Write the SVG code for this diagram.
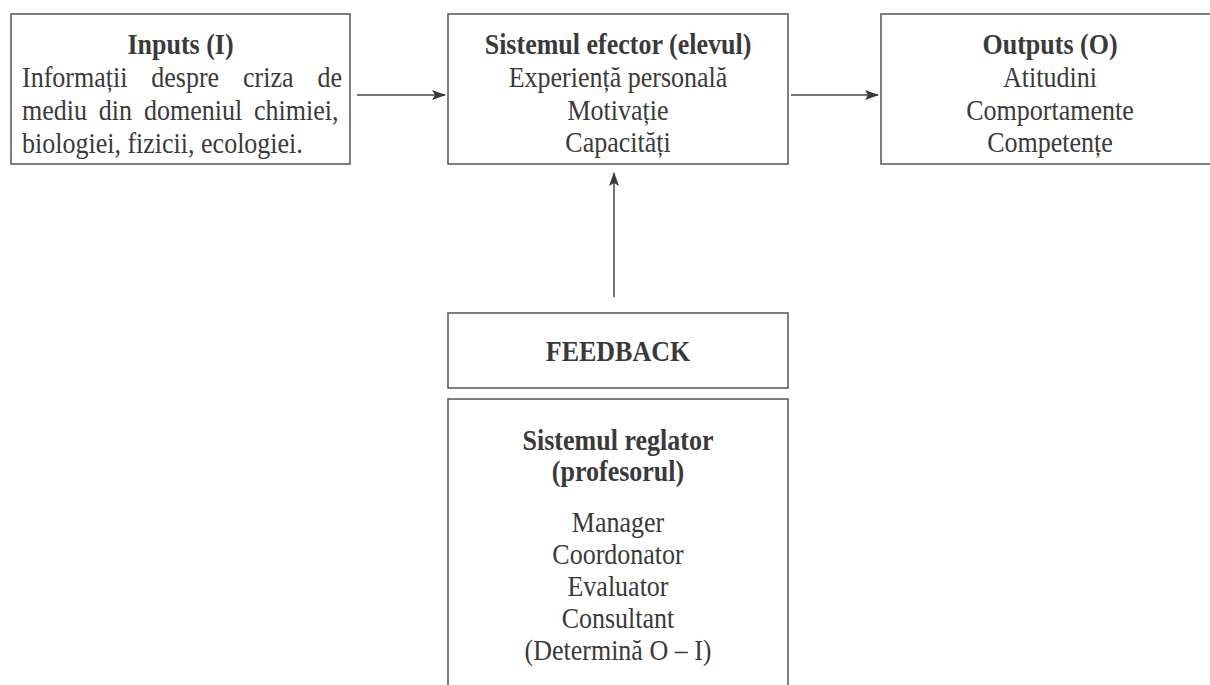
<svg xmlns="http://www.w3.org/2000/svg" width="1210" height="685" viewBox="0 0 1210 685">
<style>
.box{fill:#fff;stroke:#555;stroke-width:1.5}
.t{font-family:"Liberation Serif","Times New Roman",serif;font-size:29px;fill:#3a3a3a;text-anchor:middle}
.b{font-weight:bold}
.l{text-anchor:start}
.con{stroke:#444;stroke-width:1.5;fill:none}
</style>
<defs>
<marker id="ah" viewBox="0 0 14 10" refX="13" refY="5" markerWidth="14" markerHeight="10" markerUnits="userSpaceOnUse" orient="auto">
<path d="M0,0 L14,5 L0,10 L3,5 Z" fill="#3a3a3a"/>
</marker>
</defs>
<rect width="1210" height="685" fill="#fff"/>
<g id="inputs">
<rect class="box" x="11" y="14" width="339" height="150"/>
<text class="t b" transform="translate(180.5,54) scale(0.897,1)">Inputs (I)</text>
<text class="t l" transform="translate(22,87) scale(0.897,1)" word-spacing="19.4">Informații despre criza de</text>
<text class="t l" transform="translate(22,120) scale(0.897,1)" word-spacing="6">mediu din domeniul chimiei,</text>
<text class="t l" transform="translate(22,153) scale(0.897,1)">biologiei, fizicii, ecologiei.</text>
</g>
<g id="efector">
<rect class="box" x="448" y="14" width="340" height="150"/>
<text class="t b" transform="translate(618,54) scale(0.897,1)">Sistemul efector (elevul)</text>
<text class="t" transform="translate(618,87) scale(0.897,1)">Experiență personală</text>
<text class="t" transform="translate(618,120) scale(0.897,1)">Motivație</text>
<text class="t" transform="translate(618,152) scale(0.897,1)">Capacități</text>
</g>
<g id="outputs">
<rect class="box" x="881" y="14" width="340" height="150"/>
<text class="t b" transform="translate(1050,54) scale(0.897,1)">Outputs (O)</text>
<text class="t" transform="translate(1050,87) scale(0.897,1)">Atitudini</text>
<text class="t" transform="translate(1050,120) scale(0.897,1)">Comportamente</text>
<text class="t" transform="translate(1050,152) scale(0.897,1)">Competențe</text>
</g>
<g id="feedback">
<rect class="box" x="448" y="313" width="340" height="75"/>
<text class="t b" transform="translate(618,361) scale(0.897,1)">FEEDBACK</text>
</g>
<g id="reglator">
<rect class="box" x="448" y="399" width="340" height="300"/>
<text class="t b" transform="translate(618,450) scale(0.897,1)">Sistemul reglator</text>
<text class="t b" transform="translate(618,481) scale(0.897,1)">(profesorul)</text>
<text class="t" transform="translate(618,532) scale(0.897,1)">Manager</text>
<text class="t" transform="translate(618,564) scale(0.897,1)">Coordonator</text>
<text class="t" transform="translate(618,596) scale(0.897,1)">Evaluator</text>
<text class="t" transform="translate(618,628) scale(0.897,1)">Consultant</text>
<text class="t" transform="translate(618,660) scale(0.897,1)">(Determină O – I)</text>
</g>
<g id="connectors">
<line class="con" x1="357" y1="95" x2="445" y2="95" marker-end="url(#ah)"/>
<line class="con" x1="791" y1="95" x2="878" y2="95" marker-end="url(#ah)"/>
<line class="con" x1="614" y1="297" x2="614" y2="173" marker-end="url(#ah)"/>
</g>
</svg>
